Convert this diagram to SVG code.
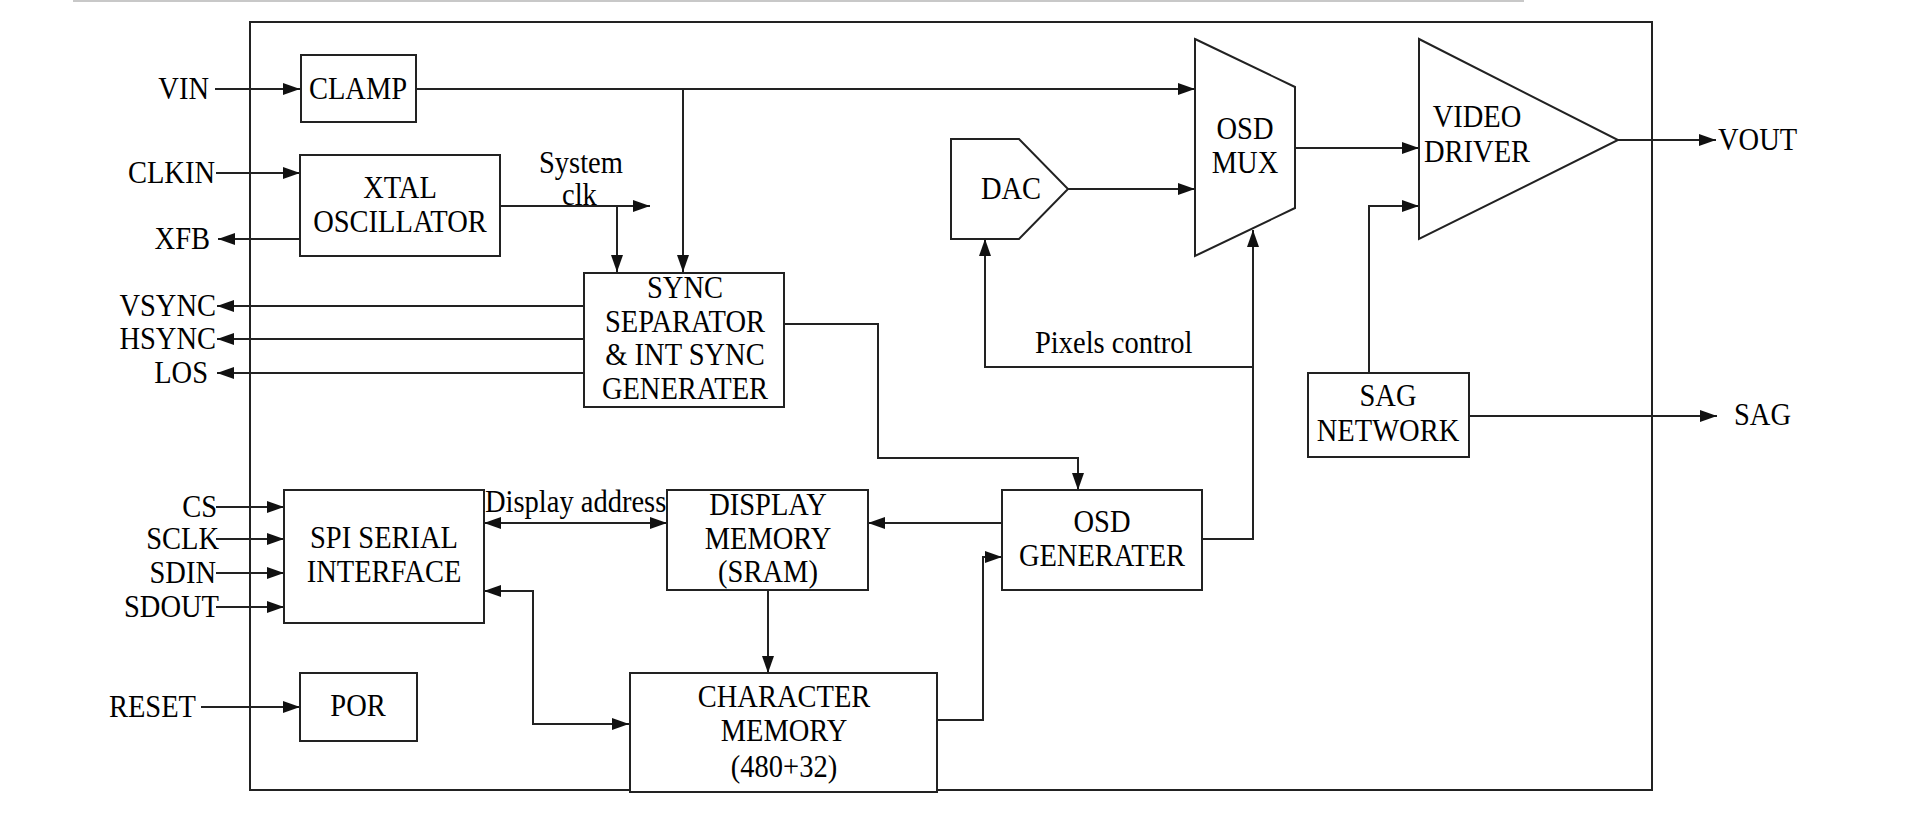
<svg xmlns="http://www.w3.org/2000/svg" width="1920" height="840" viewBox="0 0 1920 840" font-family="'Liberation Serif', 'Times New Roman', serif">
<style>
text{font-size:31px;fill:#000;}
.c{text-anchor:middle}
.e{text-anchor:end}
.box{fill:#fff;stroke:#222;stroke-width:2}
.ln{fill:none;stroke:#222;stroke-width:2}
</style>
<defs>
<marker id="ah" markerUnits="userSpaceOnUse" markerWidth="18" markerHeight="13" refX="17" refY="6" orient="auto-start-reverse">
<path d="M0,0 L17,6 L0,12 z" fill="#111"/>
</marker>
</defs>
<rect width="1920" height="840" fill="#fff"/>
<line x1="73" y1="1" x2="1524" y2="1" stroke="#c8c8c8" stroke-width="2"/>
<rect id="frame" x="250" y="22" width="1402" height="768" fill="none" stroke="#222" stroke-width="2"/>

<g id="connectors" class="ln" marker-end="url(#ah)">
<path d="M215,89 H300"/>
<path d="M216,173 H300"/>
<path d="M300,239 H218"/>
<path d="M416,89 H1195"/>
<path d="M683,89 V272"/>
<path d="M500,206 H650"/>
<path d="M617,206 V272"/>
<path d="M584,306 H217"/>
<path d="M584,339 H217"/>
<path d="M584,373 H217"/>
<path d="M784,324 H878 V458 H1078 V490"/>
<path d="M1068,189 H1195"/>
<path d="M1295,148 H1419"/>
<path d="M1618,140 H1716"/>
<path d="M1202,539 H1253 V230"/>
<path d="M1253,367 H985 V239"/>
<path d="M1369,373 V206 H1419"/>
<path d="M1469,416 H1717"/>
<path d="M216,507 H284"/>
<path d="M216,539 H284"/>
<path d="M216,573 H284"/>
<path d="M216,607 H284"/>
<path d="M484,523 H667" marker-start="url(#ah)"/>
<path d="M1002,523 H868"/>
<path d="M768,590 V673"/>
<path d="M484,591 H533 V724 H629" marker-start="url(#ah)"/>
<path d="M937,720 H983 V557 H1002"/>
<path d="M201,707 H300"/>
</g>

<g id="pins">
<text class="e" transform="translate(209,99) scale(0.92,1)">VIN</text>
<text class="e" transform="translate(215,183) scale(0.92,1)">CLKIN</text>
<text class="e" transform="translate(210,249) scale(0.92,1)">XFB</text>
<text class="e" transform="translate(216,316) scale(0.92,1)">VSYNC</text>
<text class="e" transform="translate(216,349) scale(0.92,1)">HSYNC</text>
<text class="e" transform="translate(208,383) scale(0.92,1)">LOS</text>
<text class="e" transform="translate(217,517) scale(0.92,1)">CS</text>
<text class="e" transform="translate(219,549) scale(0.92,1)">SCLK</text>
<text class="e" transform="translate(216,583) scale(0.92,1)">SDIN</text>
<text class="e" transform="translate(219,617) scale(0.92,1)">SDOUT</text>
<text class="e" transform="translate(196,717) scale(0.92,1)">RESET</text>
<text transform="translate(1718,150) scale(0.92,1)">VOUT</text>
<text transform="translate(1734,425) scale(0.92,1)">SAG</text>
</g>

<g id="labels">
<text transform="translate(539,173) scale(0.92,1)">System</text>
<text transform="translate(562,205) scale(0.92,1)">clk</text>
<text transform="translate(1035,353) scale(0.92,1)">Pixels control</text>
<text transform="translate(485,512) scale(0.92,1)">Display address</text>
</g>

<g id="clamp"><rect class="box" x="301" y="55" width="115" height="67"/><text class="c" transform="translate(358,99) scale(0.92,1)">CLAMP</text></g>
<g id="xtal"><rect class="box" x="300" y="155" width="200" height="101"/><text class="c" transform="translate(400,198) scale(0.92,1)">XTAL</text><text class="c" transform="translate(400,232) scale(0.92,1)">OSCILLATOR</text></g>
<g id="sync"><rect class="box" x="584" y="273" width="200" height="134"/><text class="c" transform="translate(685,298) scale(0.92,1)">SYNC</text><text class="c" transform="translate(685,332) scale(0.92,1)">SEPARATOR</text><text class="c" transform="translate(685,365) scale(0.92,1)">&amp; INT SYNC</text><text class="c" transform="translate(685,399) scale(0.92,1)">GENERATER</text></g>
<g id="dac"><path class="box" d="M951,139 H1019 L1068,189 L1019,239 H951 Z"/><text class="c" transform="translate(1011,199) scale(0.92,1)">DAC</text></g>
<g id="mux"><path class="box" d="M1195,39 L1295,87 V208 L1195,256 Z"/><text class="c" transform="translate(1245,139) scale(0.92,1)">OSD</text><text class="c" transform="translate(1245,173) scale(0.92,1)">MUX</text></g>
<g id="vdriver"><path class="box" d="M1419,39 L1618,140 L1419,239 Z"/><text class="c" transform="translate(1477,127) scale(0.92,1)">VIDEO</text><text class="c" transform="translate(1477,162) scale(0.92,1)">DRIVER</text></g>
<g id="sag"><rect class="box" x="1308" y="373" width="161" height="84"/><text class="c" transform="translate(1388,406) scale(0.92,1)">SAG</text><text class="c" transform="translate(1388,441) scale(0.92,1)">NETWORK</text></g>
<g id="spi"><rect class="box" x="284" y="490" width="200" height="133"/><text class="c" transform="translate(384,548) scale(0.92,1)">SPI SERIAL</text><text class="c" transform="translate(384,582) scale(0.92,1)">INTERFACE</text></g>
<g id="dispmem"><rect class="box" x="667" y="490" width="201" height="100"/><text class="c" transform="translate(768,515) scale(0.92,1)">DISPLAY</text><text class="c" transform="translate(768,549) scale(0.92,1)">MEMORY</text><text class="c" transform="translate(768,582) scale(0.92,1)">(SRAM)</text></g>
<g id="osdgen"><rect class="box" x="1002" y="490" width="200" height="100"/><text class="c" transform="translate(1102,532) scale(0.92,1)">OSD</text><text class="c" transform="translate(1102,566) scale(0.92,1)">GENERATER</text></g>
<g id="charmem"><rect class="box" x="630" y="673" width="307" height="119"/><text class="c" transform="translate(784,707) scale(0.92,1)">CHARACTER</text><text class="c" transform="translate(784,741) scale(0.92,1)">MEMORY</text><text class="c" transform="translate(784,777) scale(0.92,1)">(480+32)</text></g>
<g id="por"><rect class="box" x="300" y="673" width="117" height="68"/><text class="c" transform="translate(358,716) scale(0.92,1)">POR</text></g>
</svg>
